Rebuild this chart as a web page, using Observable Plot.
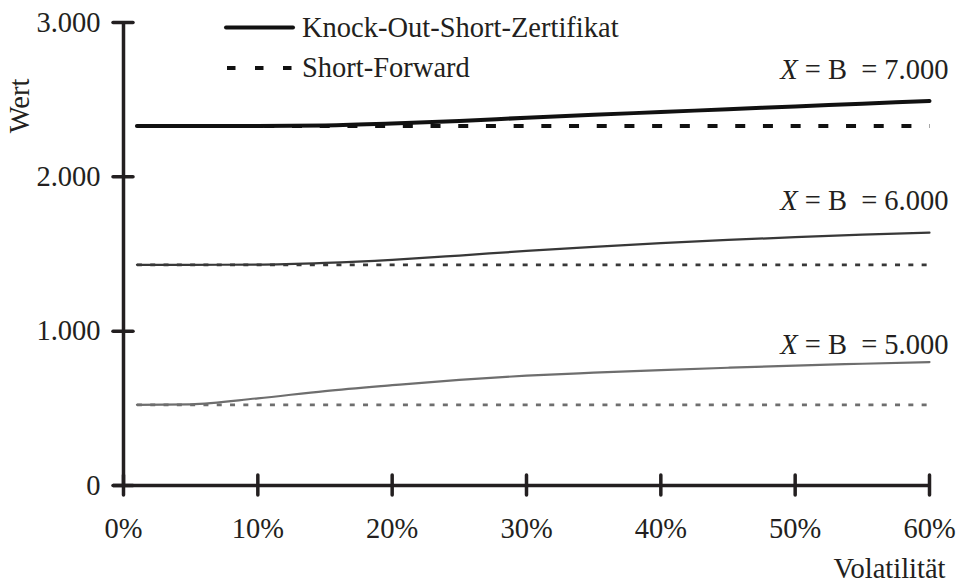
<!DOCTYPE html>
<html>
<head>
<meta charset="utf-8">
<script src="https://cdn.jsdelivr.net/npm/d3@7"></script>
<script src="https://cdn.jsdelivr.net/npm/@observablehq/plot@0.6"></script>
<style>
  html, body { margin: 0; padding: 0; background: #fff; }
  #wrap { position: relative; width: 958px; height: 582px; font-family: "Liberation Serif", serif; }
  #wrap svg, #wrap svg text, #wrap svg tspan, #wrap svg g { font-family: "Liberation Serif", serif !important; }
  #legend { position: absolute; left: 0; top: 0; pointer-events: none; }
</style>
</head>
<body>
<div id="wrap"></div>
<script>
// ---- data ----
const volatility = [0.01, 0.05, 0.10, 0.15, 0.20, 0.25, 0.30, 0.35, 0.40, 0.45, 0.50, 0.55, 0.60];
const ko7000 = [2330, 2330, 2330, 2333, 2345, 2362, 2383, 2402, 2420, 2438, 2456, 2474, 2492];
const ko6000 = [1430, 1430, 1431, 1442, 1462, 1490, 1520, 1546, 1570, 1591, 1609, 1625, 1638];
const ko5000 = [523, 526, 565, 612, 650, 685, 712, 731, 748, 763, 777, 789, 800];
const forwardLevels = [2330, 1430, 523];
const forwardRange = [0.01, 0.60];
const curveLabels = ["X = B = 7.000", "X = B = 6.000", "X = B = 5.000"];
const curveLabelY = [2631, 1782, 855];
const xTicks = [0, 0.1, 0.2, 0.3, 0.4, 0.5, 0.6];
const yTicks = [0, 1000, 2000, 3000];
const legendLabels = ["Knock-Out-Short-Zertifikat", "Short-Forward"];

// ---- styles ----
const ink = "#231f20";
const seriesColors = ["#111111", "#383838", "#6e6e6e"];
const koWidths = [4, 2.2, 2.2];
const fwdWidths = [4, 2.7, 2.7];
const fwdDash = ["10,17.7", "5,8.3", "5,8.3"];
const fwdOffset = [11.1, 0, 0];
const font = "Liberation Serif";
const fontSize = "28.5px";

const koSeries = [ko7000, ko6000, ko5000];
const koRows = koSeries.map(ys => volatility.map((v, i) => ({v, y: ys[i]})));
const fwdRows = forwardLevels.map(l => forwardRange.map(v => ({v, y: l})));
const labelRows = curveLabels.map((t, i) => ({v: 0.6, y: curveLabelY[i], t}));

const fmtDE = d3.formatLocale({decimal: ",", thousands: ".", grouping: [3], currency: ["", " €"]}).format(",");

const marks = [
  Plot.axisX(xTicks, {tickSize: 0, tickPadding: 32, tickFormat: d => Math.round(d * 100) + "%", label: null, fill: ink}),
  Plot.axisY(yTicks, {tickSize: 0, tickPadding: 23, tickFormat: fmtDE, label: null, fill: ink}),
];
fwdRows.forEach((rows, i) => {
  marks.push(Plot.line(rows, {x: "v", y: "y", stroke: seriesColors[i], strokeWidth: fwdWidths[i],
    strokeDasharray: fwdDash[i], strokeDashoffset: fwdOffset[i], strokeLinecap: "butt"}));
});
koRows.forEach((rows, i) => {
  marks.push(Plot.line(rows, {x: "v", y: "y", stroke: seriesColors[i], strokeWidth: koWidths[i], curve: "monotone-x"}));
});
marks.push(
  Plot.ruleX([0], {stroke: ink, strokeWidth: 3.5}),
  Plot.ruleY([0], {stroke: ink, strokeWidth: 3.5, insetLeft: -10}),
  Plot.ruleX(xTicks, {x: d => d, y1: 0, y2: 0, insetTop: -10, insetBottom: -10, stroke: ink, strokeWidth: 3.5, strokeLinecap: "round"}),
  Plot.ruleY(yTicks, {y: d => d, x1: 0, x2: 0, insetLeft: -10, insetRight: -10, stroke: ink, strokeWidth: 3.5, strokeLinecap: "round"}),
  Plot.text(labelRows, {x: "v", y: "y", text: "t", textAnchor: "end", lineAnchor: "bottom", dx: 19, fill: ink}),
  Plot.text(["Volatilität"], {frameAnchor: "bottom-right", textAnchor: "end", lineAnchor: "bottom", dx: 16, dy: 92, fill: ink}),
  Plot.text(["Wert"], {frameAnchor: "top-left", rotate: -90, textAnchor: "middle", lineAnchor: "bottom", dx: -95, dy: 83.5, fill: ink})
);

const chart = Plot.plot({
  width: 958, height: 582,
  marginLeft: 123, marginRight: 29, marginTop: 22, marginBottom: 97,
  style: {fontFamily: font, fontSize, color: ink, background: "white", overflow: "visible"},
  x: {domain: [0, 0.6]},
  y: {domain: [0, 3000]},
  marks
});

// italic X in curve labels
chart.querySelectorAll("text").forEach(t => {
  if (t.textContent.startsWith("X = ")) {
    const rest = t.textContent.slice(1).replace(" B =", " B\u00A0 =");
    t.textContent = "";
    const a = document.createElementNS("http://www.w3.org/2000/svg", "tspan");
    a.setAttribute("font-style", "italic");
    a.textContent = "X";
    const b = document.createElementNS("http://www.w3.org/2000/svg", "tspan");
    b.textContent = rest;
    t.appendChild(a); t.appendChild(b);
  }
});

const wrap = document.getElementById("wrap");
wrap.appendChild(chart);

// legend overlay
const leg = d3.select(wrap).append("svg").attr("id", "legend").attr("width", 958).attr("height", 100)
  .style("font-size", fontSize);
const legItems = [
  {y: 27.5, ty: 37, dash: null},
  {y: 68, ty: 77, dash: "8.5,19.5"}
];
legItems.forEach((it, i) => {
  const ln = leg.append("line").attr("x1", i ? 227 : 226).attr("x2", i ? 292 : 293)
    .attr("y1", it.y).attr("y2", it.y).attr("stroke", "#111").attr("stroke-width", 4)
    .attr("stroke-linecap", i ? "butt" : "round");
  if (it.dash) ln.attr("stroke-dasharray", it.dash);
  leg.append("text").attr("x", 302).attr("y", it.ty).attr("fill", ink).text(legendLabels[i]);
});
</script>
</body>
</html>
